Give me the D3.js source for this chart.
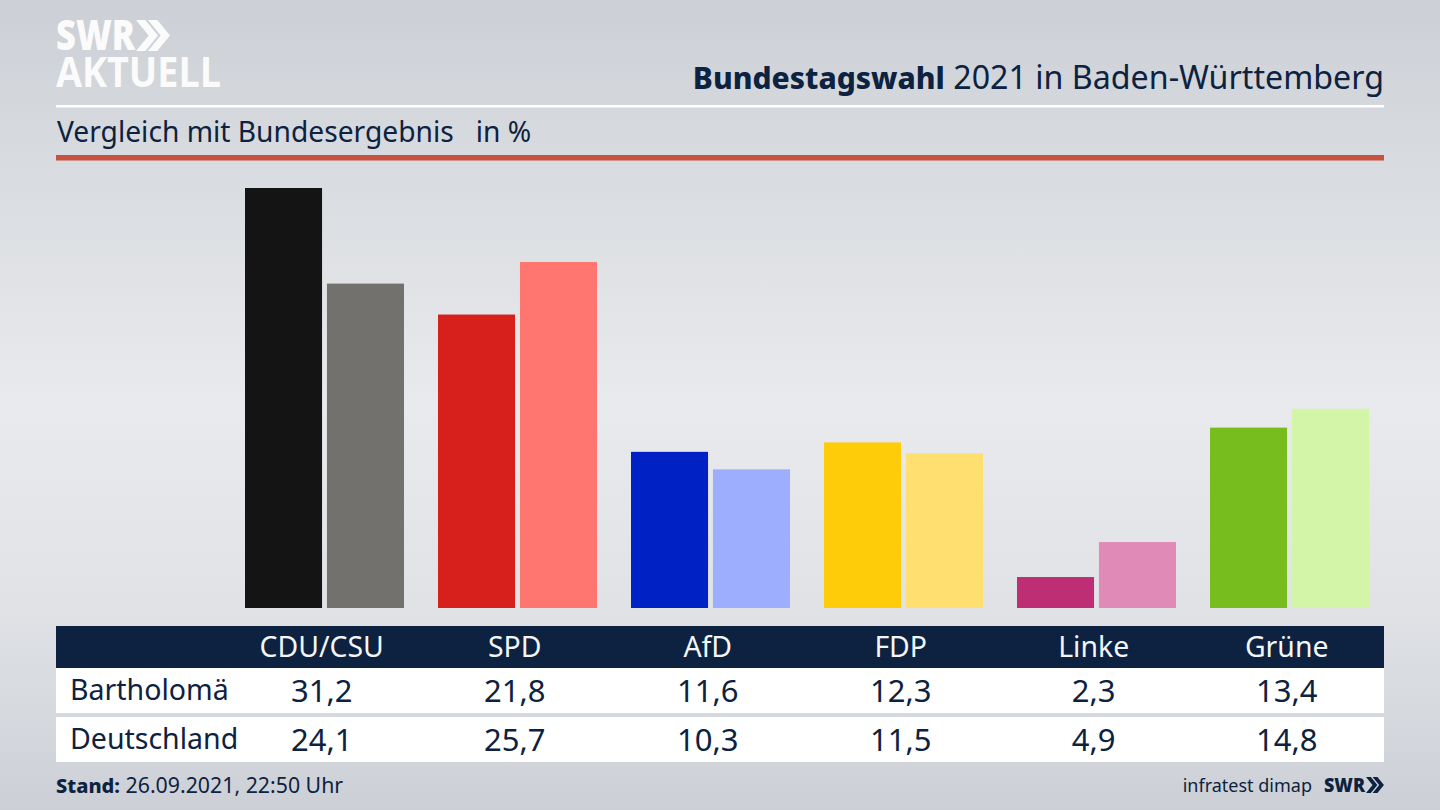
<!DOCTYPE html>
<html>
<head>
<meta charset="utf-8">
<style>
  html, body { margin: 0; padding: 0; background: #d8dade; overflow: hidden; }
  text { font-family: "Noto Sans", sans-serif; fill: #0c2240; }
</style>
<script src="https://cdn.jsdelivr.net/npm/d3@7"></script>
</head>
<body>
<div id="d3container"></div>
<script>
'use strict';

var parties = ['CDU/CSU', 'SPD', 'AfD', 'FDP', 'Linke', 'Grüne'];
var regions = ['Bartholomä', 'Deutschland'];
var bartholomae = [31.2, 21.8, 11.6, 12.3, 2.3, 13.4];
var deutschland = [24.1, 25.7, 10.3, 11.5, 4.9, 14.8];
var darkColors = ['#141414', '#d71f1c', '#0021c4', '#ffcc0a', '#bd2e75', '#78bd1e'];
var lightColors = ['#73716e', '#ff7670', '#9eaeff', '#ffdf70', '#e08ab8', '#d2f5a8'];

var values = [bartholomae, deutschland];
var colors = [darkColors, lightColors];
var deFormat = function (v) { return v.toFixed(1).replace('.', ','); };

var svg = d3.select('#d3container').append('svg')
  .attr('width', 1440)
  .attr('height', 810)
  .style('display', 'block');

var grad = svg.append('defs').append('linearGradient')
  .attr('id', 'bg')
  .attr('x1', 0).attr('y1', 0).attr('x2', 0).attr('y2', 1);
grad.selectAll('stop')
  .data([[0, '#ccd0d6'], [0.2, '#d8dbdf'], [0.5, '#e9eaed'], [0.75, '#e0e2e6'], [1, '#ccd0d6']])
  .enter().append('stop')
  .attr('offset', function (d) { return d[0]; })
  .attr('stop-color', function (d) { return d[1]; });
svg.append('rect').attr('width', 1440).attr('height', 810).attr('fill', 'url(#bg)');

// scales, the table columns sit 3px left of the bar groups
var x = d3.scaleBand().domain(parties).range([228, 1386]);
var tableX = d3.scaleBand().domain(parties).range([225.2, 1383.2]);
var inner = d3.scaleBand().domain(regions).range([0, 159]).paddingInner(0.06);
var y = d3.scaleLinear().domain([0, 31.2]).range([608, 188]);
var rowTop = d3.scaleOrdinal().domain(regions).range([668, 717]);

// logo
var logo = svg.append('text')
  .style('font-family', '"Open Sans"').style('fill', '#fbfbfb');
logo.append('tspan').attr('x', 56).attr('y', 50)
  .style('font-weight', 800).style('font-size', '42px')
  .attr('textLength', 79).attr('lengthAdjust', 'spacingAndGlyphs').text('SWR');
logo.append('tspan').attr('x', 56).attr('y', 87)
  .style('font-weight', 700).style('font-size', '42px')
  .attr('textLength', 165).attr('lengthAdjust', 'spacingAndGlyphs').text('AKTUELL');

function chevrons(g, xs, size, fill) {
  g.selectAll('path.chev').data(xs).enter().append('path')
    .attr('class', 'chev')
    .attr('d', function (d) {
      var w = size * 0.41, t = size * 0.3;
      return 'M' + d + ',0 L' + (d + t) + ',0 L' + (d + t + w) + ',' + (size / 2) +
        ' L' + (d + t) + ',' + size + ' L' + d + ',' + size + ' L' + (d + w) + ',' + (size / 2) + 'Z';
    })
    .attr('fill', fill);
}
chevrons(svg.append('g').attr('transform', 'translate(136,20)'), [0, 12], 31, '#fbfbfb');

// title
var title = svg.append('text').attr('x', 1384).attr('y', 89)
  .attr('text-anchor', 'end').style('font-size', '32.2px');
title.append('tspan').style('font-weight', 800).style('font-size', '30px').text('Bundestagswahl');
title.append('tspan').text(' 2021 in Baden-Württemberg');

svg.append('rect').attr('x', 56).attr('y', 105).attr('width', 1328).attr('height', 2.5).attr('fill', '#fff');
svg.append('text').attr('x', 57).attr('y', 142).style('font-size', '28.2px')
  .attr('xml:space', 'preserve').style('white-space', 'pre')
  .text('Vergleich mit Bundesergebnis   in %');
svg.append('rect').attr('x', 56).attr('y', 155).attr('width', 1328).attr('height', 5.5).attr('fill', '#c9513f');

// table background
svg.append('rect').attr('x', 56).attr('y', 626).attr('width', 1328).attr('height', 42).attr('fill', '#0c2240');
svg.selectAll('rect.row').data(regions).enter().append('rect')
  .attr('class', 'row')
  .attr('x', 56)
  .attr('y', function (d) { return rowTop(d); })
  .attr('width', 1328)
  .attr('height', 45)
  .attr('fill', '#fff');

// bars
var groups = svg.selectAll('g.region')
  .data(regions)
  .enter().append('g')
  .attr('class', 'region');
groups.selectAll('rect')
  .data(function (d, r) {
    return parties.map(function (p, i) {
      return { party: p, region: d, value: values[r][i], color: colors[r][i] };
    });
  })
  .enter().append('rect')
  .attr('x', function (d) { return x(d.party) + (x.bandwidth() - 159) / 2 + inner(d.region); })
  .attr('y', function (d) { return y(d.value); })
  .attr('width', inner.bandwidth())
  .attr('height', function (d) { return y(0) - y(d.value); })
  .attr('fill', function (d) { return d.color; });

// table text
var header = svg.append('g').attr('transform', 'translate(0,657)')
  .call(d3.axisBottom(tableX).tickSize(0).tickPadding(0));
header.select('.domain').remove();
header.selectAll('text')
  .attr('y', 0).attr('dy', 0)
  .style('font-family', '"Noto Sans"').style('font-size', '28.4px').style('fill', '#f4f5f7');

svg.selectAll('text.rowlabel').data(regions).enter().append('text')
  .attr('class', 'rowlabel')
  .attr('x', 70)
  .attr('y', function (d) { return rowTop(d) + 32; })
  .style('font-size', '28.5px')
  .text(function (d) { return d; });

groups.selectAll('text')
  .data(function (d, r) {
    return parties.map(function (p, i) {
      return { party: p, region: d, value: values[r][i] };
    });
  })
  .enter().append('text')
  .attr('x', function (d) { return tableX(d.party) + tableX.bandwidth() / 2; })
  .attr('y', function (d) { return rowTop(d.region) + 34; })
  .attr('text-anchor', 'middle')
  .style('font-size', '31px')
  .text(function (d) { return deFormat(d.value); });

// footer
var stand = svg.append('text').attr('x', 56).attr('y', 793).style('font-size', '21.3px');
stand.append('tspan').style('font-weight', 800).style('font-size', '20px').text('Stand:');
stand.append('tspan').text(' 26.09.2021, 22:50 Uhr');
svg.append('text').attr('x', 1312).attr('y', 792).attr('text-anchor', 'end')
  .style('font-size', '18px').text('infratest dimap');
svg.append('text').attr('x', 1324).attr('y', 792)
  .style('font-family', '"Open Sans"').style('font-weight', 800).style('font-size', '20px')
  .attr('textLength', 41).attr('lengthAdjust', 'spacingAndGlyphs').text('SWR');
chevrons(svg.append('g').attr('transform', 'translate(1366,777)'), [0, 6.6], 16, '#0c2240');
</script>
</body>
</html>
